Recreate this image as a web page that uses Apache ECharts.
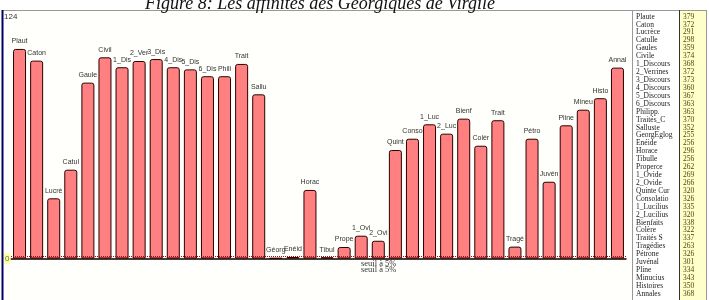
<!DOCTYPE html>
<html><head><meta charset="utf-8">
<script src="https://cdn.jsdelivr.net/npm/echarts@6/dist/echarts.min.js"></script>
<style>html,body{margin:0;padding:0;background:#fff}#c{width:709px;height:300px}</style>
</head><body><div id="c"></div>
<script>
var categories = ["Plaute","Caton","Lucrèce","Catulle","Gaules","Civile","1_Discours","2_Verrines","3_Discours","4_Discours","5_Discours","6_Discours","Philipp.","Traités_C","Salluste","GeorgEglog","Enéide","Horace","Tibulle","Properce","1_Ovide","2_Ovide","Quinte Cur","Consolatio","1_Lucilius","2_Lucilius","Bienfaits","Colère","Traités S","Tragédies","Pétrone","Juvénal","Pline","Minucius","Histoires","Annales"];
var shortLabels = ["Plaut","Caton","Lucrè","Catul","Gaule","Civil","1_Dis","2_Ver","3_Dis","4_Dis","5_Dis","6_Dis","Phili","Trait","Sallu","Géorg","Enéid","Horac","Tibul","Prope","1_Ovi","2_Ovi","Quint","Conso","1_Luc","2_Luc","Bienf","Colèr","Trait","Tragé","Pétro","Juvén","Pline","Mineu","Histo","Annal"];
var barValues = [107.6,101.6,30.9,45.6,90.3,103.3,98.2,101.4,102.4,98.2,97.1,93.6,93.6,99.9,84.3,0.2,0.8,35.2,0.6,5.9,11.7,9.1,55.7,61.5,68.9,64.1,71.8,57.9,71.0,6.1,61.5,39.4,68.4,76.4,82.3,98.0];
var tableValues = ["379","372","291","298","359","374","368","372","373","360","367","363","363","370","352","255","256","296","256","262","269","266","320","326","335","320","338","322","337","263","326","301","334","343","350","368"];
var yTicks = [0, 124];
var threshold = 1.3;
var thresholdLabel = "seuil à 5%";

var chart = echarts.init(document.getElementById('c'));
var serif = "'Liberation Serif','DejaVu Serif',serif";
var sans = "'Liberation Sans',Arial,sans-serif";
chart.setOption({
  animation: false,
  backgroundColor: '#ffffff',
  title: {
    text: 'Figure 8: Les affinités des Géorgiques de Virgile',
    left: 140, top: -10,
    textStyle: {fontFamily: serif, fontStyle: 'italic', fontWeight: 'normal', fontSize: 18, color: '#111'}
  },
  graphic: {elements: [
    {type: 'rect', z: -10, shape: {x: 2, y: 10, width: 630, height: 290}, style: {fill: '#fffffb'}},
    {type: 'rect', z: -10, shape: {x: 679, y: 10, width: 27, height: 290}, style: {fill: '#ffffcc'}},
    {type: 'line', shape: {x1: 2, y1: 10.5, x2: 706, y2: 10.5}, style: {stroke: '#999', lineWidth: 1}},
    {type: 'line', shape: {x1: 2.5, y1: 10, x2: 2.5, y2: 300}, style: {stroke: '#000066', lineWidth: 2}},
    {type: 'line', shape: {x1: 632.5, y1: 10, x2: 632.5, y2: 300}, style: {stroke: '#999', lineWidth: 1}},
    {type: 'line', shape: {x1: 679.5, y1: 10, x2: 679.5, y2: 300}, style: {stroke: '#333', lineWidth: 1}},
    {type: 'line', shape: {x1: 706.5, y1: 10, x2: 706.5, y2: 300}, style: {stroke: '#999', lineWidth: 1}},
    {type: 'text', x: 361, y: 259, style: {text: thresholdLabel, font: '8.5px ' + serif, fill: '#333'}},
    {type: 'text', x: 361, y: 265.5, style: {text: thresholdLabel, font: '8.5px ' + serif, fill: '#333'}}
  ]},
  grid: [
    {left: 11, top: 17, width: 615, height: 241.5},
    {left: 636, top: 12.7, width: 43, height: 285.1},
    {left: 683, top: 12.7, width: 23, height: 285.1}
  ],
  xAxis: [
    {type: 'category', gridIndex: 0, data: categories, boundaryGap: true,
     axisLine: {show: true, lineStyle: {color: '#000', width: 1.5}}, axisTick: {show: false}, axisLabel: {show: false}},
    {type: 'value', gridIndex: 1, show: false},
    {type: 'value', gridIndex: 2, show: false}
  ],
  yAxis: [
    {type: 'value', gridIndex: 0, min: yTicks[0], max: yTicks[1], interval: yTicks[1] - yTicks[0], offset: 8,
     axisLine: {show: false}, axisTick: {show: false}, splitLine: {show: false},
     axisLabel: {inside: true, margin: 1, fontSize: 8, fontFamily: sans, color: '#333',
       formatter: function (v) { return v === 0 ? '{z|' + v + '}' : String(v); },
       rich: {z: {backgroundColor: '#ffff99', color: '#666', fontSize: 8, fontFamily: sans, padding: [1, 1, 1, 1]}}}},
    {type: 'category', gridIndex: 1, data: categories, inverse: true,
     axisLine: {show: false}, axisTick: {show: false}, splitLine: {show: false},
     axisLabel: {inside: true, margin: 0, fontSize: 7.5, fontFamily: serif, color: '#222', interval: 0}},
    {type: 'category', gridIndex: 2, data: tableValues, inverse: true,
     axisLine: {show: false}, axisTick: {show: false}, splitLine: {show: false},
     axisLabel: {inside: true, margin: 0, fontSize: 7.5, fontFamily: serif, color: '#554400', interval: 0}}
  ],
  series: [{
    type: 'bar', xAxisIndex: 0, yAxisIndex: 0, data: barValues, barWidth: 13,
    itemStyle: {color: '#ff8080', borderColor: '#2a0000', borderWidth: 1, borderRadius: [2, 2, 0, 0]},
    label: {show: true, position: 'top', distance: 4, fontSize: 7, fontFamily: sans, color: '#333',
      formatter: function (p) { return shortLabels[p.dataIndex]; }},
    markLine: {silent: true, symbol: 'none', label: {show: false},
      lineStyle: {color: '#cc0000', type: 'dotted', width: 1}, data: [{yAxis: threshold}]}
  }]
});
</script></body></html>
